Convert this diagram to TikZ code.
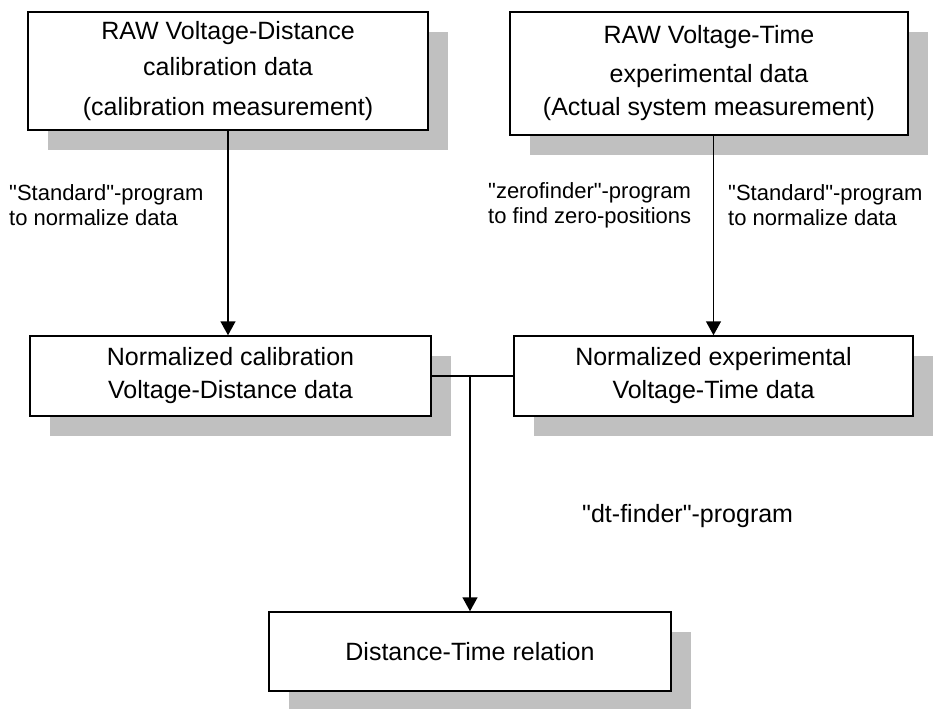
\documentclass[tikz,border=0pt]{standalone}
\usepackage{fontspec}
\setmainfont{Liberation Sans}
\newfontfamily\tah{Liberation Sans}
\usetikzlibrary{arrows.meta,shadows}
\definecolor{shadowgray}{RGB}{192,192,192}
\begin{document}
\begin{tikzpicture}[x=1pt,y=-1pt,
  box/.style={draw=black, line width=1.5pt, fill=white, inner sep=0pt, align=center,
    font=\tah\fontsize{25}{33}\selectfont,
    drop shadow={shadow xshift=20pt, shadow yshift=-20pt, fill=shadowgray, opacity=1}},
  lbl/.style={align=left, inner sep=0pt, font=\tah\fontsize{22}{25}\selectfont},
  conn/.style={line width=1.5pt},
  arr/.style={conn, -{Triangle[length=14pt,width=15pt]}}]
\useasboundingbox (0,0) rectangle (934,709);
\node[box, minimum width=400pt, minimum height=118pt] (b1) at (228,71)
  {RAW Voltage-Distance\\[3pt] calibration data\\[7pt] (calibration measurement)};
\node[box, minimum width=398pt, minimum height=123pt] (b2) at (709,73.5)
  {RAW Voltage-Time\\[6pt] experimental data\\ (Actual system measurement)};
\node[box, minimum width=401pt, minimum height=80pt] (b3) at (230.5,376)
  {Normalized calibration\\ Voltage-Distance data};
\node[box, minimum width=399pt, minimum height=80pt] (b4) at (713.5,376)
  {Normalized experimental\\ Voltage-Time data};
\node[box, minimum width=402pt, minimum height=79pt] (b5) at (470,651.5)
  {Distance-Time relation};
\node[lbl, anchor=west] (l1) at (9,205) {"Standard"-program\\to normalize data};
\node[lbl, anchor=west] (l2) at (488,205) {"zerofinder"-program\\to find zero-positions};
\node[lbl, anchor=west] (l3) at (728,205) {"Standard"-program\\to normalize data};
\node[lbl, anchor=west, font=\tah\fontsize{25}{28}\selectfont] (l4) at (582,516) {"dt-finder"-program};
\coordinate (j) at (470,376);
\draw[arr] (b1.south) -- (b1.south |- b3.north);
\draw[arr] (b4.north |- b2.south) -- (b4.north);
\draw[conn] (b3.east) -- (b4.west);
\draw[arr] (j) -- (b5.north);
\end{tikzpicture}
\end{document}
